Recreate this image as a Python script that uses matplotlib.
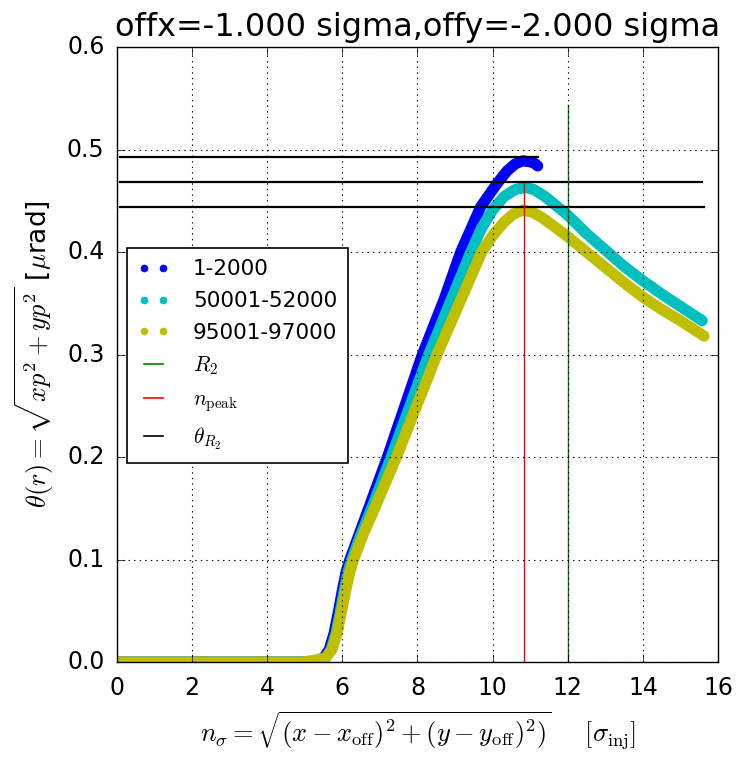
import matplotlib
matplotlib.use("Agg")
import matplotlib.pyplot as plt
from matplotlib.lines import Line2D

plt.style.use("classic")
plt.rcParams["mathtext.fontset"] = "cm"

# ---- data ----
labels = ["1-2000", "50001-52000", "95001-97000"]
colors = ["b", "c", "y"]

x_blue = [0.08, 5.25, 5.5, 5.65, 5.78, 5.9, 6.0, 6.1, 6.2, 6.4, 6.7, 7.2, 8.13, 8.7,
          9.15, 9.68, 10.1, 10.38, 10.6, 10.8, 11.0, 11.1, 11.2]
y_blue = [0.0, 0.0, 0.004, 0.012, 0.028, 0.05, 0.07, 0.088, 0.1, 0.12, 0.15, 0.2, 0.3, 0.353,
          0.4, 0.444, 0.466, 0.479, 0.486, 0.489, 0.488, 0.487, 0.484]

x_cyan = [0.08, 5.3, 5.55, 5.7, 5.83, 5.95, 6.05, 6.15, 6.25, 6.5, 6.78, 7.3, 8.3, 9.42,
          9.7, 10.0, 10.3, 10.6, 10.87, 11.1, 11.4, 11.7, 12.0, 12.5, 13.0, 13.5, 14.0,
          14.5, 15.0, 15.58]
y_cyan = [0.0, 0.0, 0.004, 0.012, 0.028, 0.05, 0.07, 0.088, 0.1, 0.125, 0.15, 0.2, 0.3, 0.4,
          0.423, 0.441, 0.454, 0.461, 0.463, 0.461, 0.454, 0.445, 0.436, 0.418, 0.402, 0.386,
          0.372, 0.359, 0.347, 0.333]

x_yel = [0.08, 4.95, 5.3, 5.55, 5.72, 5.86, 5.98, 6.09, 6.2, 6.3, 6.56, 6.86, 7.44, 8.52,
         9.15, 9.71, 10.0, 10.3, 10.55, 10.8, 11.05, 11.3, 11.6, 12.0, 12.5, 13.0, 13.5,
         14.0, 14.5, 15.0, 15.63]
y_yel = [0.0, 0.0, 0.002, 0.004, 0.012, 0.028, 0.05, 0.07, 0.088, 0.1, 0.125, 0.15, 0.2, 0.3,
         0.353, 0.4, 0.416, 0.429, 0.437, 0.441, 0.439, 0.434, 0.426, 0.415, 0.4, 0.385,
         0.37, 0.356, 0.344, 0.333, 0.318]

theta_R2 = [0.4927, 0.468, 0.444]
theta_xmin = [0.08, 0.08, 0.08]
theta_xmax = [11.2, 15.58, 15.63]
n_peak = 10.84
n_peak_top = 0.467
R2 = 12.0
R2_top = 0.543

xticks = [0, 2, 4, 6, 8, 10, 12, 14, 16]
yticks = [0.0, 0.1, 0.2, 0.3, 0.4, 0.5, 0.6]

# ---- figure ----
fig = plt.figure(figsize=(7.39, 7.59), dpi=100, facecolor="white")
ax = fig.add_axes([0.1583, 0.1278, 0.8133, 0.8102])
ax.set_facecolor("white")

series = [(x_blue, y_blue), (x_cyan, y_cyan), (x_yel, y_yel)]
for (xs, ys), c in zip(series, colors):
    ax.plot(xs, ys, "-", color=c, lw=8, solid_capstyle="round",
            solid_joinstyle="round")

for yv, x0, x1 in zip(theta_R2, theta_xmin, theta_xmax):
    ax.plot([x0, x1], [yv, yv], color="k", lw=1.6)

ax.plot([n_peak, n_peak], [0, n_peak_top], color="r", lw=1.0)
ax.plot([R2, R2], [0, R2_top], color="g", lw=1.0)

ax.set_xlim(0, 16)
ax.set_ylim(0, 0.6)
ax.set_xticks(xticks)
ax.set_yticks(yticks)
ax.set_yticklabels(["%.1f" % v for v in yticks])
ax.tick_params(labelsize=17, direction="in", length=6)
ax.tick_params(axis="x", pad=10)
ax.tick_params(axis="y", pad=9)
ax.grid(True, color="k", linestyle=":", linewidth=0.8)

ax.set_title("offx=-1.000 sigma,offy=-2.000 sigma", fontsize=23, pad=8)
ax.set_xlabel(r"$n_\sigma=\sqrt{(x-x_{\rm off})^2+(y-y_{\rm off})^2)}\quad\ \,[\sigma_{\rm inj}]$",
              fontsize=19, labelpad=7)
ax.set_ylabel(r"$\theta(r)=\sqrt{xp^2+yp^2}$ [$\mu$rad]", fontsize=19, labelpad=8)

handles = [Line2D([], [], color=c, marker="o", ls="none", ms=5, mec=c) for c in colors]
handles += [Line2D([], [], color="g", lw=1.2),
            Line2D([], [], color="r", lw=1.2),
            Line2D([], [], color="k", lw=1.2)]
leg_labels = labels + [r"$R_2$", r"$n_{\rm peak}$", r"$\theta_{R_2}$"]
leg = ax.legend(handles, leg_labels, loc="lower left", bbox_to_anchor=(0.017, 0.324),
                numpoints=2, fontsize=15.5, handlelength=1.45, handletextpad=1.1,
                labelspacing=0.55, borderpad=0.5, borderaxespad=0, fancybox=False)
leg.get_frame().set_edgecolor("k")
leg.get_frame().set_linewidth(1.2)

fig.savefig("out.png", dpi=100, facecolor="white")
